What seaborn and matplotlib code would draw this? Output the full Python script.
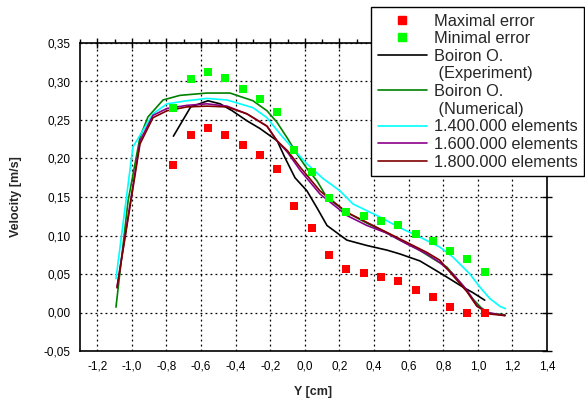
import numpy as np
import pandas as pd
import matplotlib
matplotlib.use("Agg")
import matplotlib.pyplot as plt
from matplotlib.ticker import MultipleLocator, FuncFormatter
from matplotlib.lines import Line2D
import seaborn as sns

# ---- data ----
err_x = [-0.76, -0.66, -0.56, -0.46, -0.36, -0.26, -0.16, -0.06, 0.04, 0.14,
         0.24, 0.34, 0.44, 0.54, 0.64, 0.74, 0.84, 0.94, 1.04]
max_err = [0.192, 0.231, 0.239, 0.231, 0.217, 0.204, 0.187, 0.138, 0.110, 0.075,
           0.057, 0.051, 0.046, 0.041, 0.029, 0.020, 0.007, 0.000, 0.000]
min_err = [0.265, 0.303, 0.312, 0.304, 0.290, 0.277, 0.261, 0.211, 0.182, 0.149,
           0.130, 0.125, 0.119, 0.114, 0.102, 0.093, 0.080, 0.070, 0.052]

exp_x = [-0.76, -0.66, -0.56, -0.49, -0.42, -0.335, -0.26, -0.16, -0.115, -0.057,
         0.012, 0.07, 0.128, 0.243, 0.359, 0.475, 0.55, 0.665, 0.74, 0.821, 0.914, 0.97, 1.04]
exp_y = [0.229, 0.267, 0.275, 0.271, 0.262, 0.249, 0.239, 0.223, 0.201, 0.175,
         0.158, 0.136, 0.113, 0.094, 0.087, 0.081, 0.076, 0.067, 0.057, 0.046, 0.033, 0.026, 0.016]

num_x = [-1.092, -1.022, -0.953, -0.907, -0.82, -0.722, -0.566, -0.433, -0.30, -0.219,
         -0.161, -0.10, -0.046, 0.012, 0.07, 0.128, 0.243, 0.359, 0.475, 0.55, 0.648,
         0.74, 0.821, 0.856, 0.914, 0.97, 1.02, 1.07, 1.157]
num_y = [0.007, 0.145, 0.228, 0.254, 0.276, 0.282, 0.285, 0.285, 0.275, 0.262,
         0.247, 0.226, 0.206, 0.187, 0.171, 0.149, 0.130, 0.116, 0.103, 0.094, 0.083,
         0.070, 0.059, 0.050, 0.035, 0.018, 0.006, -0.001, -0.003]

m14_x = [-1.092, -0.994, -0.878, -0.797, -0.682, -0.566, -0.45, -0.30, -0.219, -0.144,
         -0.069, 0.012, 0.105, 0.203, 0.278, 0.434, 0.55, 0.665, 0.78, 0.856, 0.914,
         0.954, 1.012, 1.07, 1.128, 1.16]
m14_y = [0.044, 0.215, 0.258, 0.271, 0.275, 0.278, 0.276, 0.266, 0.253, 0.232,
         0.213, 0.193, 0.174, 0.158, 0.141, 0.124, 0.110, 0.098, 0.085, 0.072, 0.059,
         0.050, 0.033, 0.018, 0.008, 0.005]

m16_x = [-1.086, -0.953, -0.878, -0.797, -0.682, -0.566, -0.45, -0.335, -0.219, -0.161,
         -0.10, -0.028, 0.087, 0.243, 0.359, 0.475, 0.59, 0.706, 0.78, 0.856, 0.937,
         0.995, 1.053, 1.157]
m16_y = [0.033, 0.223, 0.256, 0.265, 0.269, 0.271, 0.268, 0.258, 0.242, 0.223,
         0.208, 0.185, 0.154, 0.126, 0.113, 0.103, 0.089, 0.076, 0.065, 0.050, 0.029,
         0.009, 0.000, -0.004]

m18_x = [-1.086, -0.953, -0.878, -0.797, -0.682, -0.566, -0.45, -0.335, -0.219, -0.161,
         -0.10, -0.028, 0.087, 0.243, 0.359, 0.475, 0.59, 0.706, 0.78, 0.856, 0.937,
         0.995, 1.07, 1.157]
m18_y = [0.032, 0.219, 0.253, 0.262, 0.267, 0.268, 0.267, 0.258, 0.242, 0.223,
         0.210, 0.189, 0.158, 0.130, 0.117, 0.104, 0.091, 0.078, 0.068, 0.048, 0.027,
         0.008, -0.002, -0.004]

labels = ["Maximal error", "Minimal error", "Boiron O.", " (Experiment)",
          "Boiron O.", " (Numerical)", "1.400.000 elements", "1.600.000 elements",
          "1.800.000 elements"]

sns.set_style("white")
plt.rcParams["font.family"] = ["Liberation Sans", "DejaVu Sans"]

fig = plt.figure(figsize=(5.85, 3.99), dpi=100)
ax = fig.add_axes([80/585, 1-351/399, (547-80)/585, (351-43)/399])

lines = [
    (exp_x, exp_y, "black"),
    (num_x, num_y, "#008000"),
    (m14_x, m14_y, "#00FFFF"),
    (m16_x, m16_y, "#8B008B"),
    (m18_x, m18_y, "#800000"),
]
for xs, ys, c in lines:
    df = pd.DataFrame({"x": xs, "y": ys})
    sns.lineplot(data=df, x="x", y="y", ax=ax, color=c, lw=1.2, sort=False,
                 estimator=None, legend=False)

for ys, c in [(max_err, "#FF0000"), (min_err, "#00FF00")]:
    df = pd.DataFrame({"x": err_x, "y": ys})
    sns.scatterplot(data=df, x="x", y="y", ax=ax, color=c, marker="s", s=40,
                    linewidth=0, legend=False, zorder=5)

ax.set_xlim(-1.3, 1.4)
ax.set_ylim(-0.05, 0.35)
ax.xaxis.set_major_locator(MultipleLocator(0.2))
ax.xaxis.set_minor_locator(MultipleLocator(0.1))
ax.yaxis.set_major_locator(MultipleLocator(0.05))
ax.yaxis.set_minor_locator(MultipleLocator(0.025))
ax.xaxis.set_major_formatter(FuncFormatter(lambda v, p: f"{v:.1f}".replace(".", ",").replace("-0,0", "0,0")))
ax.yaxis.set_major_formatter(FuncFormatter(lambda v, p: f"{v:.2f}".replace(".", ",").replace("-0,00", "0,00")))
ax.grid(True, which="major", color="black", linestyle=(0, (1.5, 2.5)), lw=0.9)
for s in ax.spines.values():
    s.set_color("black")
    s.set_linewidth(1.2)
ax.tick_params(which="major", direction="inout", length=7, width=1, colors="black",
               labelsize=8.5, top=True, right=True, pad=3)
ax.tick_params(which="minor", direction="out", length=3, width=1, colors="black",
               top=True, right=True)
ax.tick_params(axis="y", which="minor", right=False)
ax.set_xlabel("Y [cm]", fontsize=9, fontweight="bold", labelpad=10)
ax.set_ylabel("Velocity [m/s]", fontsize=9, fontweight="bold", labelpad=16)

blank = Line2D([], [], ls="none", marker="none")
handles = [
    Line2D([], [], ls="none", marker="s", color="#FF0000", markersize=6),
    Line2D([], [], ls="none", marker="s", color="#00FF00", markersize=6),
    Line2D([], [], color="black", lw=1.2),
    blank,
    Line2D([], [], color="#008000", lw=1.2),
    blank,
    Line2D([], [], color="#00FFFF", lw=1.2),
    Line2D([], [], color="#8B008B", lw=1.2),
    Line2D([], [], color="#800000", lw=1.2),
]
leg = fig.legend(handles, labels, loc="upper right", bbox_to_anchor=(584/585, 1-7/399),
                 fontsize=11.8, frameon=True, fancybox=False, framealpha=1,
                 edgecolor="black", handlelength=3.0, labelspacing=0.16,
                 borderpad=0.4, handletextpad=0.4, borderaxespad=0)
leg.get_frame().set_linewidth(1.0)
leg.set_zorder(10)

fig.savefig("out.png", dpi=100)
